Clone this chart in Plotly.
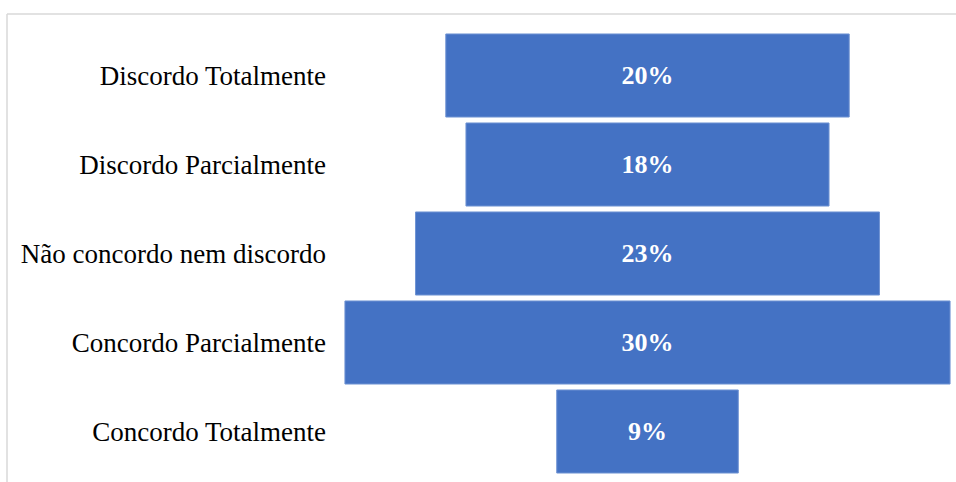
import plotly.graph_objects as go

# Survey answers (Likert scale) and share of respondents, in %
categorias = [
    "Discordo Totalmente",
    "Discordo Parcialmente",
    "Não concordo nem discordo",
    "Concordo Parcialmente",
    "Concordo Totalmente",
]
percentuais = [20, 18, 23, 30, 9]

W, H = 956, 482
plot_left, plot_right = 340, 955
plot_top, plot_bottom = 31, 476
centro_px = 647.5
px_por_pct = 20.17

x_min = -(centro_px - plot_left) / px_por_pct
x_max = (plot_right - centro_px) / px_por_pct

fonte = "Liberation Serif, Times New Roman, serif"

fig = go.Figure(
    go.Funnel(
        y=categorias,
        x=percentuais,
        texttemplate="<b>%{x}%</b>",
        textposition="inside",
        insidetextanchor="middle",
        insidetextfont=dict(family=fonte, size=26, color="white"),
        textfont=dict(family=fonte, size=26, color="white"),
        marker=dict(color="#4472C4", line=dict(color="#6f93d3", width=1)),
        connector=dict(visible=False),
        hoverinfo="skip",
    )
)

# light frame along the top and left edges of the chart area
fx0 = (7 - plot_left) / (plot_right - plot_left)
fy_top = (plot_bottom - 14) / (plot_bottom - plot_top)
fy_bot = (plot_bottom - H) / (plot_bottom - plot_top)
fx_right = (W - plot_left) / (plot_right - plot_left)
fig.add_shape(type="line", xref="paper", yref="paper",
              x0=fx0, x1=fx_right, y0=fy_top, y1=fy_top,
              line=dict(color="#d9d9d9", width=1.5))
fig.add_shape(type="line", xref="paper", yref="paper",
              x0=fx0, x1=fx0, y0=fy_top, y1=fy_bot,
              line=dict(color="#d9d9d9", width=1.5))

fig.update_layout(
    width=W,
    height=H,
    margin=dict(l=plot_left, r=W - plot_right, t=plot_top, b=H - plot_bottom, autoexpand=False),
    paper_bgcolor="white",
    plot_bgcolor="white",
    showlegend=False,
    funnelgap=0.067,
    font=dict(family=fonte, size=27, color="black"),
    xaxis=dict(range=[x_min, x_max], visible=False, fixedrange=True),
    yaxis=dict(
        showgrid=False,
        zeroline=False,
        showline=False,
        ticks="",
        ticklabelstandoff=13,
        tickfont=dict(family=fonte, size=27, color="black"),
        fixedrange=True,
    ),
)

fig.write_html("out.html", config={"displayModeBar": False})
